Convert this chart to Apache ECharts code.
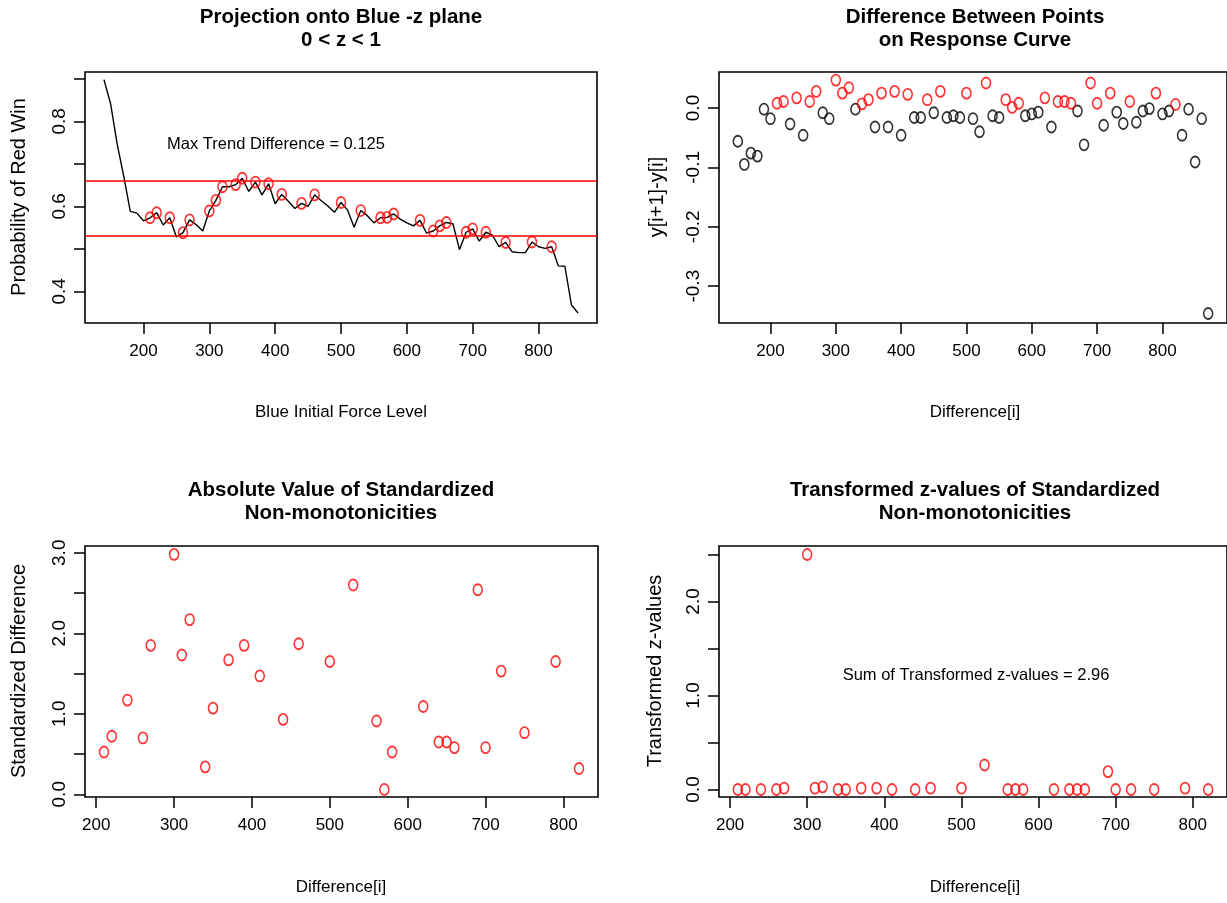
<!DOCTYPE html>
<html><head><meta charset="utf-8">
<script src="https://cdn.jsdelivr.net/npm/echarts@6/dist/echarts.min.js"></script>
<style>html,body{margin:0;padding:0;background:#fff}#c{width:1227px;height:903px}</style>
</head><body><div id="c"></div><script>
// ---------- data ----------
const curveX = [140,150,160,170,180,190,200,210,220,230,240,250,260,270,280,290,300,310,320,330,340,350,360,370,380,390,400,410,420,430,440,450,460,470,480,490,500,510,520,530,540,550,560,570,580,590,600,610,620,630,640,650,660,670,680,690,700,710,720,730,740,750,760,770,780,790,800,810,820,830,840,850,860];
const curveY = [0.898,0.842,0.747,0.671,0.588,0.584,0.566,0.573,0.585,0.556,0.573,0.528,0.538,0.568,0.557,0.542,0.589,0.614,0.646,0.646,0.651,0.666,0.635,0.657,0.627,0.653,0.606,0.628,0.612,0.595,0.607,0.600,0.627,0.613,0.601,0.586,0.609,0.591,0.551,0.590,0.578,0.561,0.573,0.574,0.582,0.570,0.561,0.554,0.567,0.537,0.542,0.554,0.562,0.559,0.498,0.539,0.547,0.518,0.539,0.532,0.505,0.515,0.493,0.491,0.491,0.516,0.505,0.501,0.505,0.460,0.459,0.368,0.349];
const increaseX = [210,220,240,260,270,300,310,320,340,350,370,390,410,440,460,500,530,560,570,580,620,640,650,660,690,700,720,750,790,820];
const trendLines = [0.660, 0.532];
const diffX = [150,160,170,180,190,200,210,220,230,240,250,260,270,280,290,300,310,320,330,340,350,360,370,380,390,400,410,420,430,440,450,460,470,480,490,500,510,520,530,540,550,560,570,580,590,600,610,620,630,640,650,660,670,680,690,700,710,720,730,740,750,760,770,780,790,800,810,820,830,840,850,860,870];
const diffY = [-0.056,-0.095,-0.076,-0.081,-0.002,-0.018,0.008,0.011,-0.027,0.017,-0.046,0.011,0.028,-0.008,-0.018,0.047,0.025,0.034,-0.002,0.007,0.014,-0.032,0.025,-0.032,0.028,-0.046,0.023,-0.016,-0.016,0.014,-0.008,0.028,-0.016,-0.013,-0.016,0.025,-0.018,-0.040,0.042,-0.013,-0.016,0.014,0.001,0.008,-0.013,-0.010,-0.007,0.017,-0.032,0.011,0.011,0.008,-0.005,-0.062,0.042,0.008,-0.029,0.025,-0.007,-0.026,0.011,-0.024,-0.005,-0.001,0.025,-0.010,-0.005,0.006,-0.046,-0.002,-0.091,-0.018,-0.346];
const stdDiff = [0.525,0.72,1.17,0.70,1.85,2.98,1.73,2.17,0.34,1.07,1.67,1.85,1.47,0.93,1.87,1.65,2.60,0.91,0.06,0.525,1.09,0.65,0.65,0.58,2.54,0.58,1.53,0.765,1.65,0.32];
const zTrans = [0,0,0,0,0.014,2.50,0.014,0.028,0,0,0.014,0.014,0,0,0.014,0.014,0.26,0,0,0,0,0,0,0,0.19,0,0,0,0.014,0];
const xTicks = [200,300,400,500,600,700,800];
const yTicksTL = [0.4,0.5,0.6,0.7,0.8,0.9];
const yLabelsTL = [0.4,0.6,0.8];
const yTicksTR = [-0.3,-0.2,-0.1,0.0];
const yTicksBL = [0,0.5,1,1.5,2,2.5,3];
const yLabelsBL = [0,1,2,3];
const yTicksBR = [0,0.5,1,1.5,2,2.5];
const yLabelsBR = [0,1,2];

// ---------- styling ----------
const FONT = "'Liberation Sans',Arial,sans-serif";
const RED = '#ff0000';
const grids = [
  {left:85, top:72, width:512, height:251},
  {left:719, top:72, width:512, height:251},
  {left:85, top:546, width:513, height:251},
  {left:719, top:546, width:512, height:251}
].map(g => Object.assign({show:true, borderColor:'#000', borderWidth:1.6, backgroundColor:'transparent'}, g));

function xAx(gi, min, max) {
  return {type:'value', gridIndex:gi, min, max,
    axisLine:{show:false, onZero:false}, splitLine:{show:false},
    axisTick:{show:true, inside:false, length:11, customValues:xTicks, lineStyle:{color:'#000', width:1.5}},
    axisLabel:{show:true, customValues:xTicks, margin:20, color:'#000', fontFamily:FONT, fontSize:17}};
}
function yAx(gi, min, max, ticks, labels) {
  return {type:'value', gridIndex:gi, min, max,
    axisLine:{show:false, onZero:false}, splitLine:{show:false},
    axisTick:{show:true, inside:false, length:11, customValues:ticks, lineStyle:{color:'#000', width:1.5}},
    axisLabel:{show:true, customValues:labels, rotate:90, margin:16, color:'#000', fontFamily:FONT, fontSize:19,
      formatter: v => (Math.abs(v) < 1e-9 ? '0.0' : v.toFixed(1))}};
}

const circle = (color) => ({symbol:'circle', symbolSize:[9,11],
  itemStyle:{color:'rgba(0,0,0,0)', borderColor:color, borderWidth:1.7}});

const curvePairs = curveX.map((x,i) => [x, curveY[i]]);
const incPairs = increaseX.map(x => [x, curveY[curveX.indexOf(x)]]);
const diffPos = [], diffNeg = [];
diffX.forEach((x,i) => (diffY[i] > 0 ? diffPos : diffNeg).push([x, diffY[i]]));

function txt(x, y, text, opts) {
  opts = opts || {};
  return {type:'text', x, y, rotation: opts.rot || 0, z:100,
    style:{text, fill:'#000', fontSize: opts.size || 17, fontFamily: FONT,
      fontWeight: opts.bold ? 'bold' : 'normal',
      align:'center', verticalAlign:'middle', textAlign:'center', textVerticalAlign:'middle'}};
}

const option = {
  animation:false,
  backgroundColor:'#fff',
  grid: grids,
  xAxis: [xAx(0,111.2,888.8), xAx(1,121.2,898.8), xAx(2,185.6,844.4), xAx(3,185.6,844.4)],
  yAxis: [yAx(0,0.3255,0.916,yTicksTL,yLabelsTL), yAx(1,-0.362,0.0606,yTicksTR,yTicksTR),
          yAx(2,-0.034,3.084,yTicksBL,yLabelsBL), yAx(3,-0.08,2.59,yTicksBR,yLabelsBR)],
  series: [
    {type:'line', xAxisIndex:0, yAxisIndex:0, data:curvePairs, symbol:'none',
      lineStyle:{color:'#000', width:1.4}, z:2,
      markLine:{silent:true, symbol:'none', label:{show:false},
        lineStyle:{color:RED, width:1.6, type:'solid'},
        data: trendLines.map(v => ({yAxis:v}))}},
    Object.assign({type:'scatter', xAxisIndex:0, yAxisIndex:0, data:incPairs, z:3}, circle(RED)),
    Object.assign({type:'scatter', xAxisIndex:1, yAxisIndex:1, data:diffNeg}, circle('#000')),
    Object.assign({type:'scatter', xAxisIndex:1, yAxisIndex:1, data:diffPos}, circle(RED)),
    Object.assign({type:'scatter', xAxisIndex:2, yAxisIndex:2, data:increaseX.map((x,i)=>[x,stdDiff[i]])}, circle(RED)),
    Object.assign({type:'scatter', xAxisIndex:3, yAxisIndex:3, data:increaseX.map((x,i)=>[x,zTrans[i]])}, circle(RED))
  ],
  graphic: [
    txt(341,17,'Projection onto Blue -z plane',{bold:true,size:20.5}),
    txt(341,40,'0 < z < 1',{bold:true,size:20.5}),
    txt(975,17,'Difference Between Points',{bold:true,size:20.5}),
    txt(975,40,'on Response Curve',{bold:true,size:20.5}),
    txt(341,490,'Absolute Value of Standardized',{bold:true,size:20.5}),
    txt(341,513,'Non-monotonicities',{bold:true,size:20.5}),
    txt(975,490,'Transformed z-values of Standardized',{bold:true,size:20.5}),
    txt(975,513,'Non-monotonicities',{bold:true,size:20.5}),
    txt(341,412,'Blue Initial Force Level'),
    txt(975,412,'Difference[i]'),
    txt(341,887,'Difference[i]'),
    txt(975,887,'Difference[i]'),
    txt(19,197,'Probability of Red Win',{rot:Math.PI/2,size:20}),
    txt(657,197,'y[i+1]-y[i]',{rot:Math.PI/2,size:20}),
    txt(19,671,'Standardized Difference',{rot:Math.PI/2,size:20}),
    txt(655,671,'Transformed z-values',{rot:Math.PI/2,size:20}),
    txt(276,144,'Max Trend Difference = 0.125',{size:16.5}),
    txt(976,675,'Sum of Transformed z-values = 2.96',{size:16.5})
  ]
};
const chart = echarts.init(document.getElementById('c'), null, {renderer:'canvas'});
chart.setOption(option);
</script></body></html>
